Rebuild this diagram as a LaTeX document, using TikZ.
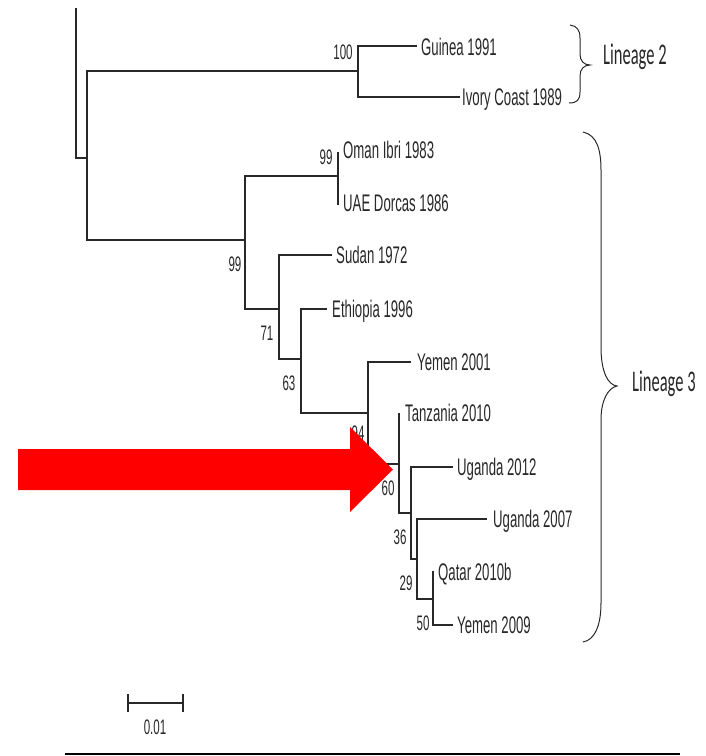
\documentclass[tikz,border=0pt]{standalone}
\usepackage{fontspec}
\newfontfamily\lblfont[FakeStretch=0.55]{Liberation Sans}
\newfontfamily\linfont[FakeStretch=0.55]{Carlito}
\definecolor{ink}{RGB}{40,40,40}
\definecolor{arrowred}{RGB}{255,0,0}
\begin{document}
\begin{tikzpicture}[x=1pt,y=-1pt,
  branch/.style={draw=ink,line width=1.1pt},
  leaf/.style={anchor=base west,inner sep=0pt,text=ink,font=\lblfont\fontsize{24}{28}\selectfont},
  boot/.style={anchor=center,inner sep=0pt,text=ink,font=\lblfont\fontsize{21}{24}\selectfont},
  lineage/.style={anchor=base west,inner sep=0pt,text=ink,font=\linfont\fontsize{30}{34}\selectfont},
  bracestyle/.style={draw=ink,line width=1pt},
]
\useasboundingbox (0,0) rectangle (706,756);

% internal nodes and branch tips
\coordinate (r0) at (76,8);
\coordinate (r) at (76,158);
\coordinate (nA) at (87,158);
\coordinate (nL2) at (358,71);
\coordinate (g1) at (417,46);
\coordinate (i1) at (460,97);
\coordinate (nB) at (245,240);
\coordinate (nOU) at (338,176);
\coordinate (ot) at (338,152);
\coordinate (ut) at (338,205);
\coordinate (nC) at (279,309);
\coordinate (s1) at (332,255);
\coordinate (nD) at (301,359);
\coordinate (e1) at (327,309);
\coordinate (nE) at (368,413);
\coordinate (y1) at (411,362);
\coordinate (nF) at (399,464);
\coordinate (t1) at (399,413);
\coordinate (nG) at (411,513);
\coordinate (u1) at (453,467);
\coordinate (nH) at (417,559);
\coordinate (u2) at (487,519);
\coordinate (nI) at (433,599);
\coordinate (q1) at (433,571);
\coordinate (y2) at (453,625);

% branches
\draw[branch] (r0) -- (r) -- (nA);
\draw[branch] (nL2) -| (nA) |- (nB);
\draw[branch] (g1) -| (nL2) |- (i1);
\draw[branch] (nOU) -| (nB) |- (nC);
\draw[branch] (ot) -- (ut);
\draw[branch] (s1) -| (nC) |- (nD);
\draw[branch] (e1) -| (nD) |- (nE);
\draw[branch] (y1) -| (nE) |- (nF);
\draw[branch] (t1) -- (nF) |- (nG);
\draw[branch] (u1) -| (nG) |- (nH);
\draw[branch] (u2) -| (nH) |- (nI);
\draw[branch] (q1) -- (nI) |- (y2);

% leaf labels
\node[leaf] (guinea) at (421,55.5) {Guinea 1991};
\node[leaf] (ivory) at (462,105.5) {Ivory Coast 1989};
\node[leaf] (oman) at (343,158.5) {Oman Ibri 1983};
\node[leaf] (uae) at (343,211.5) {UAE Dorcas 1986};
\node[leaf] (sudan) at (336,263.5) {Sudan 1972};
\node[leaf] (ethiopia) at (332,317.5) {Ethiopia 1996};
\node[leaf] (yemenA) at (417,370.5) {Yemen 2001};
\node[leaf] (tanzania) at (405,421) {Tanzania 2010};
\node[leaf] (ugandaA) at (457,475.5) {Uganda 2012};
\node[leaf] (ugandaB) at (493,527.5) {Uganda 2007};
\node[leaf] (qatar) at (438,580.5) {Qatar 2010b};
\node[leaf] (yemenB) at (457,633.5) {Yemen 2009};

% bootstrap values
\node[boot] (b100) at (343,52) {100};
\node[boot] (b99a) at (326,157) {99};
\node[boot] (b99b) at (235,264) {99};
\node[boot] (b71) at (267,333) {71};
\node[boot] (b63) at (289,383) {63};
\node[boot] (b94) at (358,433) {94};
\node[boot] (b60) at (388,488) {60};
\node[boot] (b36) at (400,537) {36};
\node[boot] (b29) at (406,583) {29};
\node[boot] (b50) at (423,623) {50};

% red arrow
\fill[arrowred] (18,449) -- (350,449) -- (350,427) -- (393,469.5) -- (350,512) -- (350,490) -- (18,490) -- cycle;

% braces
\draw[bracestyle] (570,25) .. controls (577,26) and (580,30) .. (580,38) -- (580,54)
  .. controls (580,61) and (584,65) .. (590,65)
  .. controls (584,65) and (580,69) .. (580,76) -- (580,92)
  .. controls (580,100) and (577,103) .. (569,103);
\draw[bracestyle] (583,132) .. controls (597,135) and (601,150) .. (601,170) -- (601,347)
  .. controls (601,372) and (608,385) .. (617,386)
  .. controls (608,388) and (601,400) .. (601,420) -- (601,603)
  .. controls (601,625) and (595,640) .. (583,642);
\node[lineage] (lin2) at (603,64) {Lineage 2};
\node[lineage] (lin3) at (632,391) {Lineage 3};

% scale bar
\coordinate (sbl) at (128,703);
\coordinate (sbr) at (183,703);
\draw[branch] (sbl) -- (sbr);
\draw[branch] ([yshift=-9pt]sbl) -- ([yshift=9pt]sbl);
\draw[branch] ([yshift=-9pt]sbr) -- ([yshift=9pt]sbr);
\node[boot] (sblabel) at (155,727) {0.01};

% bottom rule
\coordinate (rl) at (65,754);
\coordinate (rr) at (680,754);
\draw[black,line width=2pt] (rl) -- (rr);
\end{tikzpicture}
\end{document}
